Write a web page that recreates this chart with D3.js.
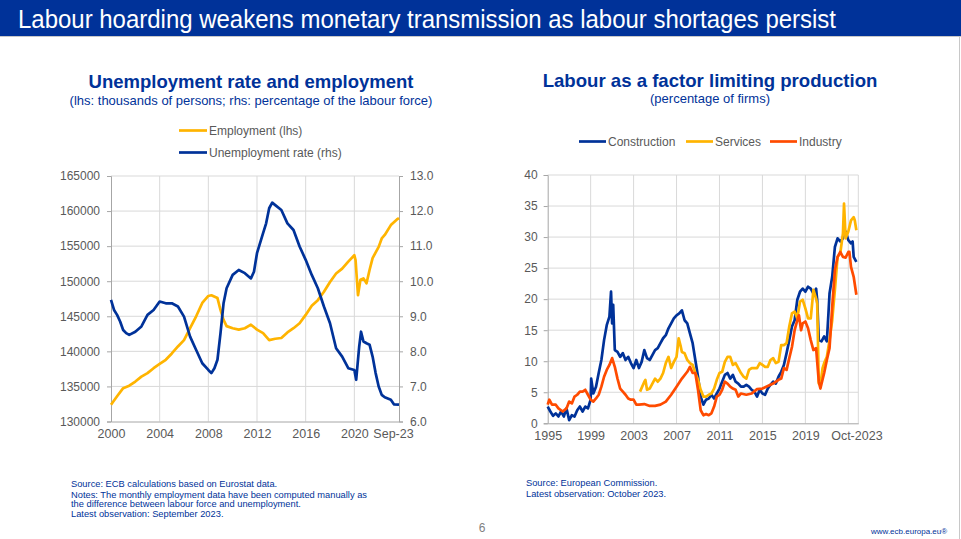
<!DOCTYPE html>
<html>
<head>
<meta charset="utf-8">
<script src="https://cdn.jsdelivr.net/npm/d3@7"></script>
<style>
html,body{margin:0;padding:0;background:#fff;}
svg{display:block;font-family:"Liberation Sans",Arial,sans-serif;}
</style>
</head>
<body>
<svg id="chart" width="961" height="539"></svg>
<script>
// ---------- DATA ----------
const pageTitle = "Labour hoarding weakens monetary transmission as labour shortages persist";

// Left chart: employment (lhs, thousands) and unemployment rate (rhs, %)
const leftTitle = "Unemployment rate and employment";
const leftSubtitle = "(lhs: thousands of persons; rhs: percentage of the labour force)";
const leftXTicks = [2000, 2004, 2008, 2012, 2016, 2020];
const leftXEndLabel = "Sep-23";
const leftYTicks = [130000, 135000, 140000, 145000, 150000, 155000, 160000, 165000];
const rightYTicks = [6, 7, 8, 9, 10, 11, 12, 13];

const empDates = [2000.0,2000.5,2001.0,2001.5,2002.0,2002.5,2003.0,2003.5,2004.0,2004.5,2005.0,2005.5,2006.0,2006.5,2007.0,2007.5,2008.0,2008.25,2008.75,2009.0,2009.25,2009.5,2010.0,2010.5,2011.0,2011.5,2012.0,2012.5,2013.0,2013.5,2014.0,2014.5,2015.0,2015.5,2016.0,2016.5,2017.0,2017.5,2018.0,2018.5,2019.0,2019.5,2020.0,2020.1,2020.3,2020.5,2020.75,2021.0,2021.25,2021.5,2022.0,2022.25,2022.5,2023.0,2023.5,2023.67];
const empValues = [132400,133600,134750,135100,135700,136400,136900,137600,138200,138800,139700,140700,141600,143300,145000,146900,147900,148000,147600,145900,144500,143600,143300,143100,143300,143800,143100,142600,141600,141800,141900,142700,143300,144000,145200,146500,147300,148500,149900,151100,151800,152800,153700,153000,148000,150200,150400,149700,151600,153300,154900,156100,156600,158000,158800,159000];

const unempDates = [2000.0,2000.25,2000.5,2000.75,2001.0,2001.25,2001.5,2002.0,2002.5,2003.0,2003.5,2004.0,2004.5,2005.0,2005.5,2006.0,2006.5,2007.0,2007.5,2008.0,2008.25,2008.5,2008.75,2009.0,2009.25,2009.5,2010.0,2010.5,2011.0,2011.5,2011.75,2012.0,2012.5,2012.75,2013.0,2013.25,2013.5,2014.0,2014.5,2015.0,2015.5,2016.0,2016.5,2017.0,2017.5,2018.0,2018.5,2019.0,2019.5,2020.0,2020.15,2020.4,2020.55,2020.75,2021.0,2021.25,2021.5,2021.75,2022.0,2022.25,2022.5,2023.0,2023.25,2023.67];
const unempValues = [9.47,9.18,9.04,8.85,8.61,8.52,8.47,8.56,8.71,9.04,9.18,9.42,9.37,9.37,9.28,8.99,8.42,8.04,7.66,7.47,7.38,7.52,7.76,8.52,9.37,9.80,10.18,10.32,10.23,10.08,10.27,10.80,11.37,11.65,12.08,12.24,12.17,12.03,11.65,11.46,10.99,10.61,10.18,9.80,9.28,8.80,8.09,7.85,7.52,7.47,7.19,8.14,8.56,8.28,8.23,8.19,7.85,7.38,7.00,6.76,6.69,6.62,6.49,6.48];

// Right chart: labour as a factor limiting production (% of firms)
const rightTitle = "Labour as a factor limiting production";
const rightSubtitle = "(percentage of firms)";
const rXTicks = [1995, 1999, 2003, 2007, 2011, 2015, 2019];
const rXEndLabel = "Oct-2023";
const rYTicks = [0, 5, 10, 15, 20, 25, 30, 35, 40];

const constrDates = [1995.0,1995.25,1995.5,1995.75,1996.0,1996.25,1996.5,1996.75,1997.0,1997.25,1997.5,1997.75,1998.0,1998.25,1998.5,1998.75,1999.0,1999.05,1999.25,1999.5,1999.75,2000.0,2000.25,2000.5,2000.75,2000.9,2001.0,2001.1,2001.25,2001.5,2001.75,2002.0,2002.25,2002.5,2002.75,2003.0,2003.25,2003.5,2003.75,2004.0,2004.25,2004.5,2004.75,2005.0,2005.25,2005.5,2005.75,2006.0,2006.25,2006.5,2006.75,2007.0,2007.25,2007.5,2007.75,2008.0,2008.25,2008.5,2008.75,2009.0,2009.25,2009.5,2009.75,2010.0,2010.25,2010.5,2010.75,2011.0,2011.25,2011.5,2011.75,2012.0,2012.25,2012.5,2012.75,2013.0,2013.25,2013.5,2013.75,2014.0,2014.25,2014.5,2014.75,2015.0,2015.25,2015.5,2015.75,2016.0,2016.25,2016.5,2016.75,2017.0,2017.25,2017.5,2017.75,2018.0,2018.25,2018.5,2018.75,2019.0,2019.25,2019.5,2019.75,2020.0,2020.1,2020.25,2020.5,2020.75,2021.0,2021.15,2021.25,2021.5,2021.75,2022.0,2022.25,2022.5,2022.6,2022.75,2023.0,2023.25,2023.4,2023.5,2023.75];
const constrValues = [2.7,1.9,1.2,1.6,1.1,1.9,1.1,2.4,0.5,1.3,1.1,2.1,2.7,1.9,2.7,2.4,3.8,7.2,4.8,5.9,8.1,10.2,13.4,15.8,17.2,21.2,16.1,19.1,11.8,11.5,10.7,11.3,10.2,10.7,9.7,8.9,10.2,8.9,9.9,11.8,10.5,10.2,11.0,11.8,12.1,12.9,13.7,14.2,15.3,16.1,16.9,17.4,17.7,18.2,16.6,16.1,14.5,12.9,10.2,7.5,4.3,3.0,3.8,4.0,4.6,4.0,4.8,5.6,6.7,7.8,8.1,7.2,7.8,6.7,6.4,5.9,5.9,6.2,5.9,5.4,5.1,4.3,5.4,4.8,4.6,5.6,6.2,6.7,6.4,7.5,8.3,9.4,11.3,13.4,15.6,16.6,19.9,21.2,21.7,21.2,22.0,21.7,20.9,21.7,19.9,13.4,13.2,14.0,13.2,17.7,20.9,23.6,28.4,29.8,29.3,29.8,31.1,30.9,29.5,29.0,29.3,26.8,26.0];

const servDates = [2003.6,2004.0,2004.1,2004.25,2004.5,2004.75,2005.0,2005.25,2005.5,2005.75,2006.0,2006.25,2006.5,2006.75,2007.0,2007.2,2007.4,2007.5,2007.75,2008.0,2008.25,2008.5,2008.75,2009.0,2009.25,2009.5,2009.75,2010.0,2010.25,2010.5,2010.75,2011.0,2011.25,2011.5,2011.75,2012.0,2012.25,2012.5,2012.75,2013.0,2013.25,2013.5,2013.75,2014.0,2014.25,2014.5,2014.75,2015.0,2015.25,2015.5,2015.75,2016.0,2016.25,2016.5,2016.75,2017.0,2017.25,2017.5,2017.75,2018.0,2018.25,2018.5,2018.75,2019.0,2019.25,2019.5,2019.75,2020.0,2020.1,2020.25,2020.4,2020.6,2020.75,2021.0,2021.25,2021.5,2021.75,2022.0,2022.25,2022.5,2022.6,2022.75,2023.0,2023.25,2023.5,2023.6,2023.75];
const servValues = [5.1,6.7,7.0,5.4,5.6,6.4,7.2,6.7,7.2,8.1,9.7,10.7,8.9,9.9,10.7,13.7,12.3,11.5,11.3,10.2,9.7,9.4,8.1,7.0,5.4,4.3,4.3,4.6,4.8,5.6,7.0,8.1,8.3,9.9,10.7,10.7,9.4,9.7,8.9,8.1,7.5,7.2,8.6,8.9,8.9,8.9,9.7,9.4,9.1,9.1,10.2,10.5,9.7,9.9,12.6,12.6,12.9,15.6,17.7,18.0,16.9,19.6,19.9,18.5,16.9,16.9,21.5,20.1,19.3,6.4,6.2,8.9,9.7,10.7,13.4,16.6,21.5,26.8,27.4,30.6,35.4,29.8,30.9,32.7,33.2,32.7,31.1];

const indDates = [1995.0,1995.15,1995.4,1995.75,1996.0,1996.4,1996.75,1997.0,1997.25,1997.5,1997.75,1998.0,1998.25,1998.5,1998.75,1999.0,1999.25,1999.5,1999.75,2000.0,2000.25,2000.5,2000.75,2001.0,2001.25,2001.5,2001.75,2002.0,2002.25,2002.5,2002.75,2003.0,2003.25,2003.5,2004.0,2004.5,2005.0,2005.5,2006.0,2006.5,2007.0,2007.5,2008.0,2008.25,2008.5,2008.75,2009.0,2009.25,2009.5,2009.75,2010.0,2010.25,2010.5,2010.75,2011.0,2011.25,2011.5,2011.75,2012.0,2012.25,2012.5,2012.75,2013.0,2013.5,2014.0,2014.5,2015.0,2015.5,2016.0,2016.5,2016.75,2017.0,2017.25,2017.5,2017.75,2018.0,2018.25,2018.4,2018.6,2018.75,2019.0,2019.25,2019.5,2019.75,2020.0,2020.25,2020.4,2020.75,2021.0,2021.25,2021.5,2021.75,2022.0,2022.25,2022.5,2022.75,2023.0,2023.1,2023.25,2023.5,2023.75];
const indValues = [3.0,3.8,3.0,3.0,2.4,1.9,2.4,3.5,3.2,4.3,4.6,5.1,5.1,5.4,4.6,3.8,3.5,4.0,4.6,5.9,7.5,8.6,9.4,10.5,9.1,7.2,5.6,5.1,4.6,4.0,3.8,3.8,3.0,3.0,3.1,2.8,2.8,3.0,3.5,4.6,5.9,7.2,8.3,9.1,8.1,8.1,5.4,2.1,1.3,1.5,1.3,1.6,2.7,4.3,4.6,5.4,6.7,6.4,5.9,5.6,5.4,4.3,4.8,4.6,4.8,5.5,5.6,6.0,6.4,7.0,7.2,8.9,8.6,10.5,12.3,15.0,16.6,17.4,15.0,16.1,16.4,15.3,13.4,11.8,12.1,6.7,5.6,8.1,10.2,12.1,18.8,24.7,26.8,27.6,26.8,26.7,27.6,27.6,25.2,23.6,20.7];

const sourceLeft = ["Source: ECB calculations based on Eurostat data.",
  "Notes: The monthly employment data have been computed manually as",
  "the difference between labour force and unemployment.",
  "Latest observation: September 2023."];
const sourceRight = ["Source: European Commission.", "Latest observation: October 2023."];

// ---------- STYLE ----------
const BLUE = "#003299", YELLOW = "#FFB400", ORANGE = "#FF4B00";
const GRID = "#d9d9d9", AXIS = "#a6a6a6", TXT = "#595959";
const LW = 2.7;

const svg = d3.select("#chart");

// header
svg.append("rect").attr("x",0).attr("y",0).attr("width",961).attr("height",36).attr("fill",BLUE);
svg.append("line").attr("x1",0).attr("x2",961).attr("y1",36.5).attr("y2",36.5).attr("stroke","#c8c8c8");
svg.append("text").attr("x",18).attr("y",28).attr("fill","#fff")
  .style("font-family","'Liberation Sans Narrow','Arial Narrow','Liberation Sans',Arial,sans-serif")
  .style("font-size","25px").attr("textLength",818).attr("lengthAdjust","spacingAndGlyphs")
  .text(pageTitle);
svg.append("line").attr("x1",959.5).attr("x2",959.5).attr("y1",37).attr("y2",539).attr("stroke","#c8c8c8");

// ---------- LEFT CHART ----------
const L = {x0:111, x1:399, y0:176, y1:421.5};
const lx = d3.scaleLinear().domain([2000, 2023.67]).range([L.x0, L.x1]);
const lyL = d3.scaleLinear().domain([130000,165000]).range([L.y1, L.y0]);
const lyR = d3.scaleLinear().domain([6,13]).range([L.y1, L.y0]);

const gl = svg.append("g");
gl.selectAll(".hg").data(leftYTicks.slice(1)).join("line")
  .attr("x1",L.x0).attr("x2",L.x1).attr("y1",d=>lyL(d)).attr("y2",d=>lyL(d)).attr("stroke",GRID);
gl.selectAll(".vg").data(leftXTicks.slice(1)).join("line")
  .attr("x1",d=>lx(d)).attr("x2",d=>lx(d)).attr("y1",L.y0).attr("y2",L.y1).attr("stroke",GRID);

function styleAxis(g){
  g.selectAll("path.domain").attr("stroke",AXIS);
  g.selectAll(".tick line").attr("stroke",AXIS);
  g.selectAll("text").attr("fill",TXT).style("font-size","12px").style("font-family","'Liberation Sans',Arial,sans-serif");
}
gl.append("g").attr("transform",`translate(${L.x0},0)`)
  .call(d3.axisLeft(lyL).tickValues(leftYTicks).tickFormat(d3.format("d")).tickSize(4).tickPadding(7))
  .call(styleAxis);
gl.append("g").attr("transform",`translate(${L.x1},0)`)
  .call(d3.axisRight(lyR).tickValues(rightYTicks).tickFormat(d3.format(".1f")).tickSize(4).tickPadding(7))
  .call(styleAxis);
const lxAxis = gl.append("g").attr("transform",`translate(0,${L.y1})`)
  .call(d3.axisBottom(lx).tickValues(leftXTicks.concat([2023.67])).tickFormat(d=>d===2023.67?leftXEndLabel:String(d)).tickSize(0).tickPadding(8))
  .call(styleAxis);
lxAxis.selectAll(".tick").filter(d=>d===2023.67).select("text").attr("dx",-6);
lxAxis.selectAll(".tick text").style("font-size","12.5px");

const lineL = (xs, ys, y) => d3.line().x((d,i)=>lx(xs[i])).y((d,i)=>y(ys[i]))(ys);
gl.append("path").attr("d",lineL(empDates,empValues,lyL)).attr("fill","none").attr("stroke",YELLOW).attr("stroke-width",LW).attr("stroke-linejoin","round");
gl.append("path").attr("d",lineL(unempDates,unempValues,lyR)).attr("fill","none").attr("stroke",BLUE).attr("stroke-width",LW).attr("stroke-linejoin","round");

// titles
svg.append("text").attr("x",251).attr("y",88).attr("text-anchor","middle").attr("fill",BLUE)
  .style("font-size","18.5px").style("font-weight","bold").text(leftTitle);
svg.append("text").attr("x",251).attr("y",105).attr("text-anchor","middle").attr("fill",BLUE)
  .style("font-size","13px").text(leftSubtitle);

// legend left
const legL = [{c:YELLOW,t:"Employment (lhs)",y:130.5},{c:BLUE,t:"Unemployment rate (rhs)",y:152.5}];
legL.forEach(d=>{
  svg.append("line").attr("x1",179).attr("x2",207).attr("y1",d.y).attr("y2",d.y).attr("stroke",d.c).attr("stroke-width",2.7);
  svg.append("text").attr("x",209).attr("y",d.y+4.3).attr("fill",TXT).style("font-size","12px").text(d.t);
});

// ---------- RIGHT CHART ----------
const R = {x0:547.7, x1:858.3, y0:175, y1:423.3};
const rx = d3.scaleLinear().domain([1995, 2023.93]).range([R.x0, R.x1]);
const ry = d3.scaleLinear().domain([0,40]).range([R.y1, R.y0]);
const gr = svg.append("g");
gr.selectAll(".hg").data(rYTicks.slice(1)).join("line")
  .attr("x1",R.x0).attr("x2",R.x1).attr("y1",d=>ry(d)).attr("y2",d=>ry(d)).attr("stroke",GRID);
gr.selectAll(".vg").data(rXTicks.slice(1).concat([2023, 2023.93])).join("line")
  .attr("x1",d=>rx(d)).attr("x2",d=>rx(d)).attr("y1",R.y0).attr("y2",R.y1).attr("stroke",GRID);
gr.append("g").attr("transform",`translate(${R.x0},0)`)
  .call(d3.axisLeft(ry).tickValues(rYTicks).tickFormat(d3.format("d")).tickSize(4).tickPadding(6))
  .call(styleAxis);
const rxAxis = gr.append("g").attr("transform",`translate(0,${R.y1})`)
  .call(d3.axisBottom(rx).tickValues(rXTicks.concat([2023.75])).tickFormat(d=>d===2023.75?rXEndLabel:String(d)).tickSize(0).tickPadding(8))
  .call(styleAxis);
rxAxis.selectAll(".tick text").style("font-size","12.5px");

const lineR = (xs, ys) => d3.line().x((d,i)=>rx(xs[i])).y((d,i)=>ry(ys[i]))(ys);
gr.append("path").attr("d",lineR(constrDates,constrValues)).attr("fill","none").attr("stroke",BLUE).attr("stroke-width",LW).attr("stroke-linejoin","round");
gr.append("path").attr("d",lineR(servDates,servValues)).attr("fill","none").attr("stroke",YELLOW).attr("stroke-width",LW).attr("stroke-linejoin","round");
gr.append("path").attr("d",lineR(indDates,indValues)).attr("fill","none").attr("stroke",ORANGE).attr("stroke-width",LW).attr("stroke-linejoin","round");

svg.append("text").attr("x",710).attr("y",87).attr("text-anchor","middle").attr("fill",BLUE)
  .style("font-size","18.6px").style("font-weight","bold").text(rightTitle);
svg.append("text").attr("x",710).attr("y",103).attr("text-anchor","middle").attr("fill",BLUE)
  .style("font-size","13px").text(rightSubtitle);

const legR = [{c:BLUE,t:"Construction",x:579},{c:YELLOW,t:"Services",x:686},{c:ORANGE,t:"Industry",x:770}];
legR.forEach(d=>{
  svg.append("line").attr("x1",d.x).attr("x2",d.x+27).attr("y1",141.5).attr("y2",141.5).attr("stroke",d.c).attr("stroke-width",2.7);
  svg.append("text").attr("x",d.x+29).attr("y",145.8).attr("fill",TXT).style("font-size","12px").text(d.t);
});

// ---------- FOOTNOTES ----------
const fy = [487, 497.5, 507, 517];
sourceLeft.forEach((t,i)=>svg.append("text").attr("x",71).attr("y",fy[i]).attr("fill",BLUE).style("font-size","9.3px").text(t));
sourceRight.forEach((t,i)=>svg.append("text").attr("x",526).attr("y",[485.5,496.5][i]).attr("fill",BLUE).style("font-size","9.3px").text(t));
svg.append("text").attr("x",482).attr("y",532).attr("text-anchor","middle").attr("fill","#7f7f7f").style("font-size","12px").text("6");
svg.append("text").attr("x",871).attr("y",534).attr("fill",BLUE).style("font-size","8px").text("www.ecb.europa.eu®");
</script>
</body>
</html>
